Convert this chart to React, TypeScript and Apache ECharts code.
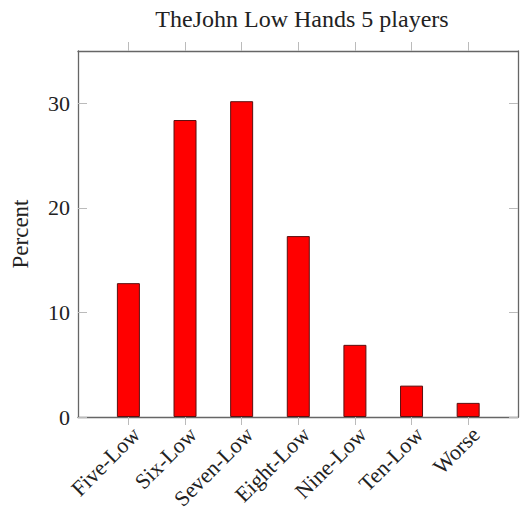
import React, { useEffect, useRef } from "react";
import * as echarts from "echarts";

const categories = ["Five-Low", "Six-Low", "Seven-Low", "Eight-Low", "Nine-Low", "Ten-Low", "Worse"];
const percents = [12.8, 28.4, 30.2, 17.3, 6.9, 3.0, 1.35];
const yTicks = [0, 10, 20, 30];
const titleText = "TheJohn Low Hands 5 players";
const yName = "Percent";

const FONT = "'Liberation Serif', serif";

export default function App() {
  const ref = useRef<HTMLDivElement>(null);
  useEffect(() => {
    if (!ref.current) return;
    const chart = echarts.init(ref.current, undefined, { renderer: "svg" });
    const idx = categories.map((_, i) => i);
    const axisLineStyle = { color: "#666", width: 1.3 };
    const tickStyle = { color: "#bbb", width: 1 };
    chart.setOption({
      animation: false,
      backgroundColor: "#fff",
      title: {
        text: titleText,
        left: 297,
        textAlign: "center",
        top: 2,
        textStyle: { fontFamily: FONT, fontWeight: "normal", fontSize: 24, color: "#222" },
      },
      grid: { left: 78, right: 3, top: 51, bottom: 98, containLabel: false },
      xAxis: [
        {
          type: "value",
          position: "bottom",
          min: -0.89,
          max: 6.88,
          splitLine: { show: false },
          axisLine: { show: true, onZero: false, lineStyle: axisLineStyle },
          axisTick: { show: true, inside: false, length: 8, customValues: idx, lineStyle: tickStyle },
          axisLabel: {
            customValues: idx,
            rotate: 45,
            margin: 6,
            align: "right",
            verticalAlign: "top",
            fontFamily: FONT,
            fontSize: 22,
            color: "#222",
            formatter: (v: number) => categories[Math.round(v)] ?? "",
          },
        },
        {
          type: "value",
          position: "top",
          min: -0.89,
          max: 6.88,
          splitLine: { show: false },
          axisLine: { show: true, onZero: false, lineStyle: axisLineStyle },
          axisTick: { show: true, inside: false, length: 9, customValues: idx, lineStyle: tickStyle },
          axisLabel: { show: false },
        },
      ],
      yAxis: [
        {
          type: "value",
          position: "left",
          min: 0,
          max: 35,
          name: yName,
          nameLocation: "middle",
          nameGap: 46,
          nameTextStyle: { fontFamily: FONT, fontSize: 23, color: "#222" },
          splitLine: { show: false },
          axisLine: { show: true, onZero: false, lineStyle: axisLineStyle },
          axisTick: { show: true, inside: true, length: 9, customValues: yTicks, lineStyle: tickStyle },
          axisLabel: { customValues: yTicks, margin: 8, fontFamily: FONT, fontSize: 22, color: "#222" },
        },
        {
          type: "value",
          position: "right",
          min: 0,
          max: 35,
          splitLine: { show: false },
          axisLine: { show: true, onZero: false, lineStyle: axisLineStyle },
          axisTick: { show: true, inside: true, length: 9, customValues: yTicks, lineStyle: tickStyle },
          axisLabel: { show: false },
        },
      ],
      series: [
        {
          type: "bar",
          xAxisIndex: 0,
          yAxisIndex: 0,
          barWidth: 23,
          data: percents.map((v, i) => [i, v]),
          itemStyle: { color: "#ff0000", borderColor: "#5a1010", borderWidth: 1 },
        },
      ],
    });
    return () => chart.dispose();
  }, []);
  return <div ref={ref} style={{ width: 521, height: 515, position: "absolute", left: 0, top: 0 }} />;
}
